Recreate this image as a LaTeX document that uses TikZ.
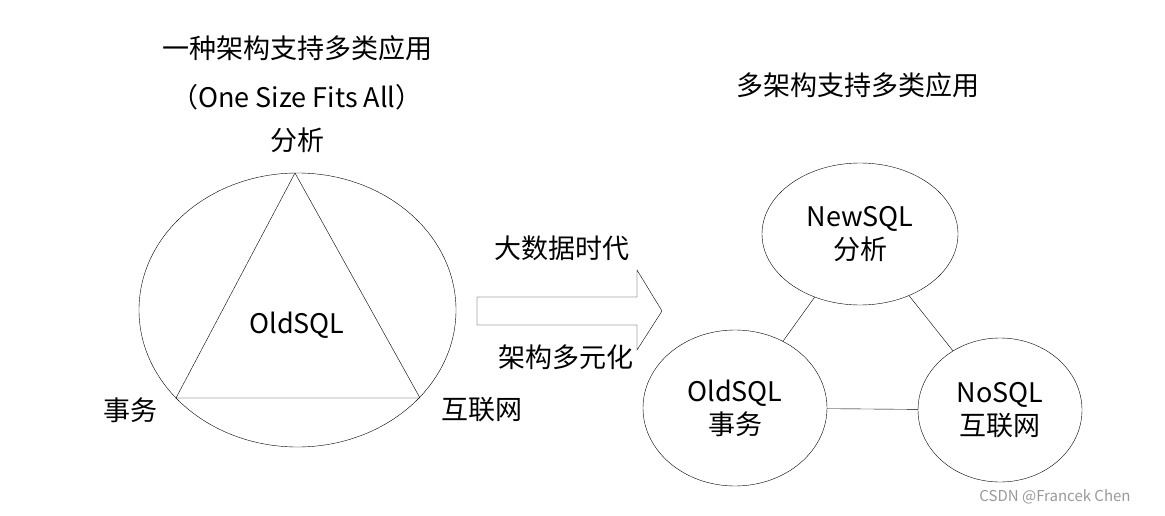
\documentclass[tikz,border=0pt]{standalone}
\usepackage{fontspec}
\setmainfont{Noto Sans CJK SC}
\usetikzlibrary{shapes.geometric,shapes.arrows,positioning}
\begin{document}
\begin{tikzpicture}[x=1pt,y=-1pt,
  txt/.style={font=\fontsize{27}{33}\selectfont, inner sep=1pt, align=center},
  bub/.style={draw, ellipse, thin, txt, inner sep=0pt}]
\useasboundingbox (0,0) rectangle (1165,516);
% left part
\node[txt] (title1) at (297,48) {一种架构支持多类应用};
\node[txt] (title2) at (297,97) {（One Size Fits All）};
\draw (297.5,310) ellipse [x radius=158.5, y radius=137];
\coordinate (ta) at (295,173);
\coordinate (tb) at (176,398);
\coordinate (tc) at (420,398);
\draw (ta) -- (tb) -- (tc) -- cycle;
\node[txt] (ana) at (297,140) {分析};
\node[txt] (trx) at (130,410) {事务};
\node[txt] (web) at (482,410) {互联网};
\node[txt] (old) at (297,325) {OldSQL};
% arrow
\draw (477,297) -- (637,297) -- (637,270) -- (662,311) -- (637,350) -- (637,325) -- (477,325) -- cycle;
\node[txt] (era) at (562,248) {大数据时代};
\node[txt] (div) at (566,357) {架构多元化};
% right part
\node[txt] (title3) at (858,85) {多架构支持多类应用};
\node[bub, minimum width=196, minimum height=142] (newsql) at (860,234) {NewSQL\\分析};
\node[bub, minimum width=184, minimum height=156] (oldsql) at (735,408) {OldSQL\\事务};
\node[bub, minimum width=164, minimum height=144] (nosql) at (1000,410) {NoSQL\\互联网};
\draw (newsql) -- (oldsql);
\draw (newsql) -- (nosql);
\draw (oldsql) -- (nosql);
\node[font=\fontsize{15}{18}\selectfont, text=gray!80] (mark) at (1055,497) {CSDN @Francek Chen};
\end{tikzpicture}
\end{document}
